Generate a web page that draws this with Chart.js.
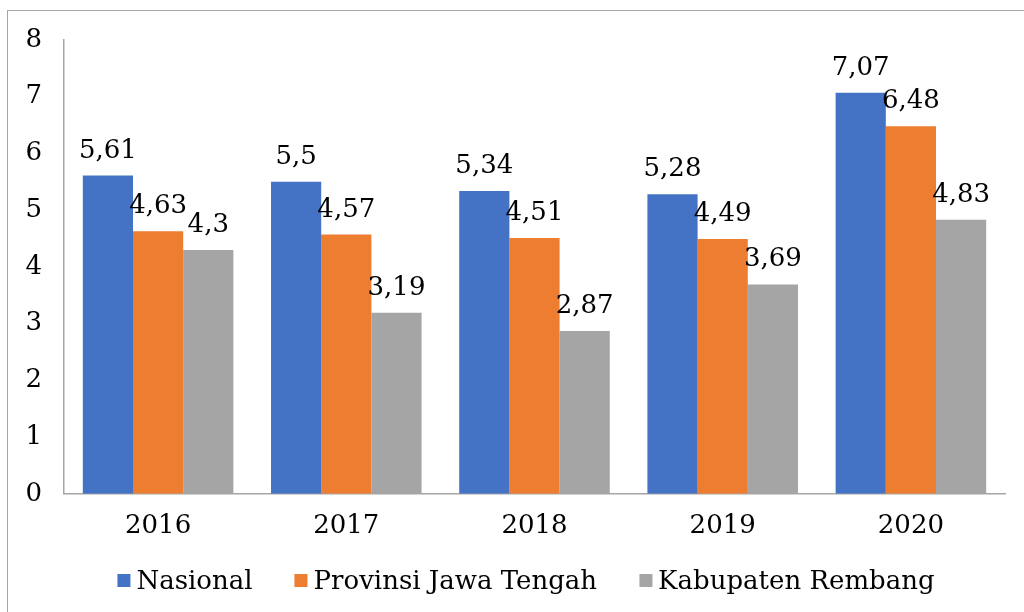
<!DOCTYPE html>
<html>
<head>
<meta charset="utf-8">
<script src="https://cdn.jsdelivr.net/npm/chart.js@4"></script>
<style>
  html, body { margin: 0; padding: 0; background: #fff; }
  #wrap { position: relative; width: 1024px; height: 612px; overflow: hidden; }
  #frame { position: absolute; left: 7px; top: 10px; width: 1100px; height: 700px; border: 1.5px solid #a6a6a6; }
  #myChart { position: absolute; left: 0; top: 0; }
  #legend {
    position: absolute; top: 566px; left: 526px; transform: translateX(-50%);
    display: flex; align-items: center; white-space: nowrap;
    font: 26px "DejaVu Serif"; line-height: 28px; color: #000;
  }
  #legend .item { display: flex; align-items: center; margin-right: 42px; }
  #legend .item:last-child { margin-right: 0; }
  #legend .box { width: 13px; height: 13px; margin-right: 6px; }
</style>
</head>
<body>
<div id="wrap">
  <div id="frame"></div>
  <canvas id="myChart" width="1024" height="612"></canvas>
  <div id="legend"></div>
</div>
<script>
// values
const years = ["2016", "2017", "2018", "2019", "2020"];
const nasional = [5.61, 5.5, 5.34, 5.28, 7.07];
const jateng = [4.63, 4.57, 4.51, 4.49, 6.48];
const rembang = [4.3, 3.19, 2.87, 3.69, 4.83];
const yTicks = [0, 1, 2, 3, 4, 5, 6, 7, 8];

const series = [
	{label: "Nasional", data: nasional, color: "#4472C4"},
	{label: "Provinsi Jawa Tengah", data: jateng, color: "#ED7D31"},
	{label: "Kabupaten Rembang", data: rembang, color: "#A5A5A5"},
];

const font = {family: "DejaVu Serif", size: 26};

// value labels above each bar, comma as decimal mark
const valueLabels = {
	id: "valueLabels",
	afterDatasetsDraw(chart) {
		const {ctx} = chart;
		ctx.save();
		ctx.font = '26px "DejaVu Serif"';
		ctx.fillStyle = "#000";
		ctx.textAlign = "center";
		ctx.textBaseline = "alphabetic";
		chart.data.datasets.forEach((ds, i) => {
			chart.getDatasetMeta(i).data.forEach((bar, j) => {
				ctx.fillText(String(ds.data[j]).replace(".", ","), bar.x, bar.y - 18);
			});
		});
		ctx.restore();
	},
};

const chart = new Chart(document.querySelector("#myChart"), {
	type: "bar",
	data: {
		labels: years,
		datasets: series.map(s => ({
			label: s.label,
			data: s.data,
			backgroundColor: s.color,
			borderWidth: 0,
			categoryPercentage: 0.8,
			barPercentage: 1,
		})),
	},
	options: {
		responsive: false,
		animation: false,
		layout: {padding: {left: 0, top: 40, right: 19, bottom: 61}},
		scales: {
			x: {
				grid: {display: false},
				border: {display: true, color: "#a6a6a6", width: 1.5},
				ticks: {font, color: "#000", padding: 9, maxRotation: 0},
			},
			y: {
				min: 0,
				max: 8,
				afterBuildTicks(scale) {
					scale.ticks = yTicks.map(v => ({value: v}));
				},
				afterFit(scale) {
					scale.width = 64;
				},
				grid: {display: false},
				border: {display: true, color: "#a6a6a6", width: 1.5},
				ticks: {font, color: "#000", padding: 14},
			},
		},
		plugins: {
			legend: {display: false},
			tooltip: {enabled: false},
		},
	},
	plugins: [valueLabels],
});

// legend under the chart
document.querySelector("#legend").innerHTML = series.map(s =>
	`<div class="item"><span class="box" style="background:${s.color}"></span>${s.label}</div>`,
).join("");
</script>
</body>
</html>
